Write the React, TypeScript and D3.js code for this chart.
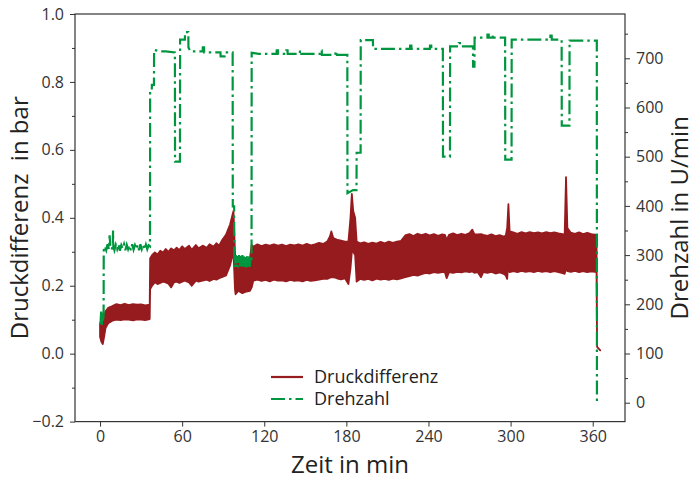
import React, { useEffect, useRef } from 'react';
import * as d3 from 'd3';

// Druckdifferenz: [Zeit (min), obere Hüllkurve (bar), untere Hüllkurve (bar)] des schwingenden Signals
const druckdifferenz: [number, number, number][] = [
    [0, 0.09, 0.05], [1, 0.08, 0.035], [2, 0.09, 0.028], [3, 0.11, 0.05], [4, 0.125, 0.075], [6, 0.135, 0.09],
    [9, 0.14, 0.097], [12, 0.146, 0.1], [15, 0.143, 0.099], [18, 0.147, 0.101], [21, 0.143, 0.1], [24, 0.146, 0.098],
    [27, 0.144, 0.101], [30, 0.145, 0.1], [33, 0.142, 0.099], [36.3, 0.144, 0.102],
    [36.6, 0.28, 0.19], [38, 0.29, 0.2], [40, 0.298, 0.21], [42, 0.292, 0.205], [44, 0.303, 0.208], [46, 0.298, 0.212],
    [48, 0.308, 0.21], [50, 0.3, 0.206], [52, 0.31, 0.195], [54, 0.304, 0.21], [56, 0.312, 0.212], [58, 0.305, 0.208],
    [60, 0.316, 0.212], [62, 0.308, 0.215], [65, 0.318, 0.21], [67, 0.306, 0.2], [70, 0.32, 0.215], [72, 0.31, 0.212],
    [75, 0.318, 0.215], [78, 0.312, 0.218], [80, 0.322, 0.214], [83, 0.315, 0.22], [85, 0.325, 0.218], [87, 0.318, 0.222],
    [89, 0.333, 0.225], [92, 0.35, 0.23], [95, 0.38, 0.26], [97.5, 0.42, 0.3], [98.6, 0.3, 0.19], [99, 0.28, 0.175],
    [101, 0.275, 0.185], [104, 0.28, 0.178], [107, 0.275, 0.183], [109.5, 0.28, 0.185],
    [110.8, 0.32, 0.195], [112, 0.315, 0.215], [115, 0.322, 0.218], [118, 0.317, 0.214], [121, 0.321, 0.217],
    [124, 0.318, 0.213], [127, 0.322, 0.218], [130, 0.318, 0.215], [133, 0.321, 0.216], [136, 0.317, 0.213],
    [139, 0.321, 0.217], [142, 0.319, 0.214], [145, 0.322, 0.216], [148, 0.318, 0.213], [151, 0.323, 0.217],
    [154, 0.319, 0.214], [157, 0.322, 0.216], [160, 0.326, 0.218], [163, 0.323, 0.22], [166, 0.33, 0.22],
    [168, 0.345, 0.224], [169, 0.36, 0.225], [170.5, 0.34, 0.225], [173, 0.336, 0.222], [176, 0.333, 0.219],
    [179, 0.33, 0.222], [181.5, 0.33, 0.205], [183, 0.4, 0.25], [184, 0.47, 0.3], [185, 0.42, 0.3], [186.4, 0.4, 0.29],
    [187.5, 0.33, 0.212], [190, 0.325, 0.22], [193, 0.328, 0.217], [196, 0.323, 0.22], [199, 0.327, 0.216],
    [202, 0.324, 0.221], [205, 0.329, 0.218], [208, 0.325, 0.22], [211, 0.33, 0.217], [214, 0.326, 0.221],
    [217, 0.33, 0.219], [220, 0.332, 0.222], [223, 0.348, 0.225], [226, 0.352, 0.228], [229, 0.346, 0.232],
    [232, 0.353, 0.23], [235, 0.349, 0.234], [238, 0.353, 0.238], [241, 0.348, 0.236], [244, 0.352, 0.24],
    [247, 0.347, 0.238], [250, 0.351, 0.24], [252, 0.35, 0.24], [253.3, 0.335, 0.222], [255, 0.35, 0.24],
    [258, 0.354, 0.238], [261, 0.349, 0.241], [264, 0.353, 0.239], [267, 0.35, 0.242], [270, 0.355, 0.24],
    [272, 0.365, 0.242], [273.5, 0.352, 0.238], [276, 0.351, 0.24], [278.4, 0.352, 0.225], [280, 0.35, 0.24],
    [283, 0.347, 0.238], [286, 0.351, 0.241], [289, 0.346, 0.236], [292, 0.349, 0.239], [295, 0.345, 0.235],
    [296.5, 0.348, 0.23], [297.5, 0.37, 0.22], [298.4, 0.44, 0.27], [299.3, 0.36, 0.24], [302, 0.357, 0.243],
    [305, 0.353, 0.24], [308, 0.358, 0.244], [311, 0.354, 0.241], [314, 0.358, 0.243], [317, 0.355, 0.24],
    [320, 0.357, 0.244], [323, 0.354, 0.241], [326, 0.358, 0.243], [329, 0.355, 0.24], [332, 0.357, 0.243],
    [335, 0.354, 0.24], [338, 0.352, 0.237], [339.5, 0.35, 0.235], [340.5, 0.52, 0.25], [341.5, 0.37, 0.243],
    [344, 0.356, 0.241], [347, 0.353, 0.244], [350, 0.357, 0.24], [353, 0.352, 0.243], [356, 0.356, 0.24],
    [359, 0.352, 0.242], [362.8, 0.35, 0.24], [363.2, 0.02, 0.02], [365.5, 0.01, 0.01],
];

// Drehzahl: [Zeit (min), Drehzahl (U/min)]
const drehzahl: [number, number][] = [
    [0.3, 160], [0.8, 185], [1.3, 158], [1.8, 182], [2.3, 165], [2.6, 178], [2.7, 310],
    [3.5, 318], [4.5, 310], [5.5, 322], [6.5, 312], [7, 340], [7.5, 320], [8.5, 311], [9.4, 322], [9.5, 350],
    [9.7, 318], [10.5, 310], [11.5, 321], [12.5, 312], [13.5, 322], [14.5, 309], [15.5, 320], [16.5, 313],
    [17.5, 322], [18.5, 310], [19.5, 321], [20.5, 312], [21.5, 320], [22.5, 310], [23.5, 322], [24.5, 311],
    [25.5, 320], [26.5, 312], [27.5, 321], [28.5, 310], [29.5, 322], [30.5, 312], [31.5, 320], [32.5, 311],
    [33.5, 321], [34.5, 312], [35.5, 320], [36.5, 318],
    [36.6, 636], [37.8, 636], [37.9, 646], [39.4, 646], [39.5, 717], [44, 714], [48, 714], [54.7, 712],
    [54.8, 490], [58.4, 490], [58.5, 738], [62, 738], [62.1, 753], [64.5, 753], [64.6, 722], [66, 714],
    [75, 714], [75.1, 722], [76, 722], [76.1, 712], [88, 712], [88.1, 704], [91, 704], [91.1, 712], [96.9, 712],
    [97, 399], [98, 399], [98.1, 300], [98.6, 275], [99.2, 300], [99.8, 276], [100.4, 298], [101, 275],
    [101.6, 300], [102.2, 277], [102.8, 298], [103.4, 275], [104, 300], [104.6, 277], [105.2, 298], [105.8, 276],
    [106.4, 299], [107, 275], [107.6, 298], [108.2, 277], [108.8, 299], [109.4, 276], [110, 297], [110.7, 290],
    [110.8, 711], [116, 709], [129, 709], [129.1, 716], [130, 716], [130.1, 709], [136, 709], [136.1, 716],
    [137, 716], [137.1, 709], [146, 709], [146.1, 716], [147, 716], [147.1, 709], [161, 709], [161.1, 716],
    [162, 716], [162.1, 707], [172, 707], [172.1, 714], [173, 714], [173.1, 707], [180.7, 707],
    [180.8, 426], [184.9, 432], [187.4, 432], [187.5, 508], [190.4, 508], [190.5, 737], [199.4, 737],
    [199.5, 719], [226.5, 719], [226.6, 726], [227.5, 726], [227.6, 719], [241, 719], [241.1, 726], [242, 726],
    [242.1, 719], [250.5, 719], [250.6, 500], [255.7, 500], [255.8, 724], [262, 724], [262.1, 731], [263, 731],
    [263.1, 724], [272.5, 724], [272.6, 683], [273.6, 683], [273.7, 742], [283, 742], [283.1, 748], [284, 748],
    [284.1, 742], [287, 742], [287.1, 748], [288, 748], [288.1, 742], [296, 742], [296.1, 494], [300.7, 494],
    [300.8, 738], [329, 738], [329.1, 746], [330, 746], [330.1, 738], [337.3, 738], [337.4, 563], [343, 563],
    [343.1, 736], [363, 736], [363.1, 0],
];

const xTicks = [0, 60, 120, 180, 240, 300, 360];
const yLinksTicks = [-0.2, 0, 0.2, 0.4, 0.6, 0.8, 1.0];
const yLinksMinor = [-0.1, 0.1, 0.3, 0.5, 0.7, 0.9];
const yRechtsTicks = [0, 100, 200, 300, 400, 500, 600, 700];
const yRechtsMinor = [50, 150, 250, 350, 450, 550, 650, 750];

const ROT = '#961b1e';
const GRUEN = '#00963f';
const ACHSE = '#333333';
const FONT = '"Open Sans", "Noto Sans", sans-serif';
const STRICHPUNKT = '14,4,2.5,4';

const App = () => {
    const ref = useRef<SVGSVGElement>(null);

    useEffect(() => {
        const width = 696, height = 480;
        const plot = { left: 75, right: 625, top: 14, bottom: 421.6 };

        const svg = d3.select(ref.current);
        svg.selectAll('*').remove();
        svg.attr('width', width).attr('height', height);

        const x = d3.scaleLinear().domain([-18.3, 383.6]).range([plot.left, plot.right]);
        const yL = d3.scaleLinear().domain([-0.2, 1.0]).range([plot.bottom, plot.top]);
        const yR = d3.scaleLinear().domain([-38.4, 790]).range([plot.bottom, plot.top]);

        svg.append('defs').append('clipPath').attr('id', 'plotclip')
            .append('rect')
            .attr('x', plot.left).attr('y', plot.top)
            .attr('width', plot.right - plot.left).attr('height', plot.bottom - plot.top);

        const g = svg.append('g').attr('clip-path', 'url(#plotclip)');

        // Druckdifferenz als Band zwischen oberer und unterer Hüllkurve
        const band = d3.area<[number, number, number]>()
            .x(d => x(d[0]))
            .y0(d => yL(d[2]))
            .y1(d => yL(d[1]));
        g.append('path')
            .datum(druckdifferenz)
            .attr('d', band)
            .attr('fill', ROT)
            .attr('stroke', ROT)
            .attr('stroke-width', 1.8)
            .attr('stroke-linejoin', 'round');

        // Drehzahl, strichpunktiert
        const linie = d3.line<[number, number]>()
            .x(d => x(d[0]))
            .y(d => yR(d[1]));
        g.append('path')
            .datum(drehzahl)
            .attr('d', linie)
            .attr('fill', 'none')
            .attr('stroke', GRUEN)
            .attr('stroke-width', 2.2)
            .attr('stroke-dasharray', STRICHPUNKT);

        // Achsen
        const tickText = (sel: any) => sel.selectAll('text')
            .attr('fill', ACHSE)
            .style('font-family', FONT)
            .style('font-size', '16px');
        const tickLine = (sel: any) => {
            sel.select('.domain').remove();
            sel.selectAll('line').attr('stroke', ACHSE).attr('stroke-width', 1);
        };

        const fmtL = d3.format('.1f');
        svg.append('g')
            .attr('transform', `translate(${plot.left},0)`)
            .call(d3.axisLeft(yL).tickValues(yLinksMinor).tickSize(3).tickFormat(() => ''))
            .call(tickLine);
        svg.append('g')
            .attr('transform', `translate(${plot.left},0)`)
            .call(d3.axisLeft(yL).tickValues(yLinksTicks).tickSize(5).tickPadding(6).tickFormat(d => fmtL(d as number)))
            .call(tickLine)
            .call(tickText);

        svg.append('g')
            .attr('transform', `translate(${plot.right},0)`)
            .call(d3.axisRight(yR).tickValues(yRechtsMinor).tickSize(3).tickFormat(() => ''))
            .call(tickLine);
        svg.append('g')
            .attr('transform', `translate(${plot.right},0)`)
            .call(d3.axisRight(yR).tickValues(yRechtsTicks).tickSize(5).tickPadding(6).tickFormat(d3.format('d')))
            .call(tickLine)
            .call(tickText);

        svg.append('g')
            .attr('transform', `translate(0,${plot.bottom})`)
            .call(d3.axisBottom(x).tickValues(xTicks).tickSize(5).tickPadding(4).tickFormat(d3.format('d')))
            .call(tickLine)
            .call(tickText);

        // Rahmen
        svg.append('rect')
            .attr('x', plot.left).attr('y', plot.top)
            .attr('width', plot.right - plot.left).attr('height', plot.bottom - plot.top)
            .attr('fill', 'none')
            .attr('stroke', ACHSE)
            .attr('stroke-width', 1.2);

        // Achsentitel
        svg.append('text')
            .attr('x', (plot.left + plot.right) / 2)
            .attr('y', 473)
            .attr('text-anchor', 'middle')
            .attr('fill', '#222')
            .style('font-family', FONT)
            .style('font-size', '24px')
            .text('Zeit in min');
        svg.append('text')
            .attr('transform', `translate(28,${(plot.top + plot.bottom) / 2}) rotate(-90)`)
            .attr('text-anchor', 'middle')
            .attr('fill', '#222')
            .style('font-family', FONT)
            .style('font-size', '24px')
            .style('white-space', 'pre')
            .text('Druckdifferenz  in bar');
        svg.append('text')
            .attr('transform', `translate(688,${(plot.top + plot.bottom) / 2}) rotate(-90)`)
            .attr('text-anchor', 'middle')
            .attr('fill', '#222')
            .style('font-family', FONT)
            .style('font-size', '24px')
            .text('Drehzahl in U/min');

        // Legende
        const legende = [
            { name: 'Druckdifferenz', farbe: ROT, dash: null },
            { name: 'Drehzahl', farbe: GRUEN, dash: STRICHPUNKT },
        ];
        const lg = svg.append('g').attr('transform', 'translate(271,377)');
        legende.forEach((l, i) => {
            const row = lg.append('g').attr('transform', `translate(0,${i * 22})`);
            row.append('line')
                .attr('x1', 0).attr('x2', 32).attr('y1', 0).attr('y2', 0)
                .attr('stroke', l.farbe)
                .attr('stroke-width', 2.2)
                .attr('stroke-dasharray', l.dash);
            row.append('text')
                .attr('x', 43).attr('y', 0).attr('dy', '0.35em')
                .attr('fill', '#222')
                .style('font-family', FONT)
                .style('font-size', '18px')
                .text(l.name);
        });
    }, []);

    return <svg ref={ref} style={{ position: 'absolute', left: 0, top: 0 }}></svg>;
};

export default App;
